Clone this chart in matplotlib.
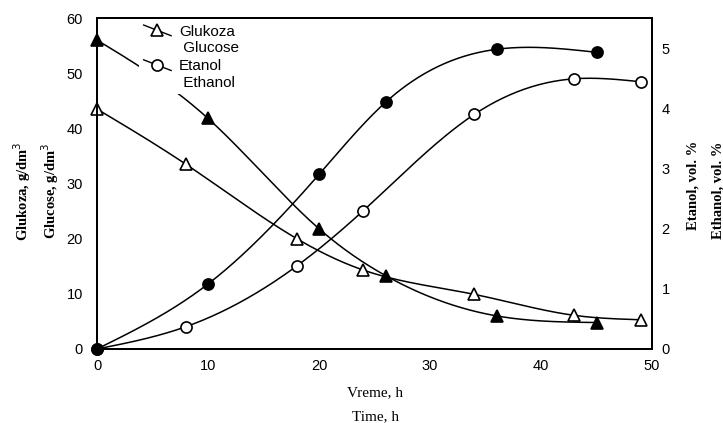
import numpy as np
import matplotlib
matplotlib.use("Agg")
import matplotlib.pyplot as plt
from matplotlib.lines import Line2D
from matplotlib.legend_handler import HandlerBase

# ---- data ----
t_glu_open = [0, 8, 18, 24, 34, 43, 49]
glu_open = [43.5, 33.5, 20.0, 14.3, 9.9, 6.1, 5.3]
t_glu_fill = [0, 10, 20, 26, 36, 45]
glu_fill = [56.0, 41.8, 21.8, 13.3, 6.0, 4.8]
t_eth_open = [0, 8, 18, 24, 34, 43, 49]
eth_open = [0.0, 0.37, 1.38, 2.3, 3.9, 4.49, 4.44]
t_eth_fill = [0, 10, 20, 26, 36, 45]
eth_fill = [0.0, 1.08, 2.9, 4.1, 4.98, 4.93]

x_ticks = [0, 10, 20, 30, 40, 50]
left_ticks = [0, 10, 20, 30, 40, 50, 60]
right_ticks = [0, 1, 2, 3, 4, 5]


def natural_spline(x, y, n=300):
    x = np.asarray(x, float)
    y = np.asarray(y, float)
    k = len(x)
    h = np.diff(x)
    A = np.zeros((k, k))
    b = np.zeros(k)
    A[0, 0] = 1
    A[-1, -1] = 1
    for i in range(1, k - 1):
        A[i, i - 1] = h[i - 1]
        A[i, i] = 2 * (h[i - 1] + h[i])
        A[i, i + 1] = h[i]
        b[i] = 6 * ((y[i + 1] - y[i]) / h[i] - (y[i] - y[i - 1]) / h[i - 1])
    M = np.linalg.solve(A, b)
    xs = np.linspace(x[0], x[-1], n)
    idx = np.clip(np.searchsorted(x, xs) - 1, 0, k - 2)
    x0, x1 = x[idx], x[idx + 1]
    hh = x1 - x0
    ys = (M[idx] * (x1 - xs) ** 3 / (6 * hh) + M[idx + 1] * (xs - x0) ** 3 / (6 * hh)
          + (y[idx] / hh - M[idx] * hh / 6) * (x1 - xs)
          + (y[idx + 1] / hh - M[idx + 1] * hh / 6) * (xs - x0))
    return xs, ys


class DiagHandler(HandlerBase):
    def create_artists(self, legend, orig_handle, xdescent, ydescent,
                       width, height, fontsize, trans):
        off = fontsize * 0.62
        x0, x1 = -xdescent, -xdescent + width
        yc = -ydescent + height / 2 + off
        line = Line2D([x0, x1], [yc + height * 0.5, yc - height * 0.5],
                      color="black", lw=1.0)
        mk = Line2D([(x0 + x1) / 2], [yc], marker=orig_handle.get_marker(),
                    mfc="white", mec="black", mew=1.2, ms=8, ls="none")
        line.set_transform(trans)
        mk.set_transform(trans)
        return [line, mk]


fig = plt.figure(figsize=(7.23, 4.23), dpi=100)
ax = fig.add_axes([97 / 723, 1 - 349 / 423, (652 - 97) / 723, (349 - 18) / 423])
ax2 = ax.twinx()

lw = 1.1
ms = 8
for t, v, mk, fc in [(t_glu_open, glu_open, "^", "white"),
                     (t_glu_fill, glu_fill, "^", "black")]:
    xs, ys = natural_spline(t, v)
    ax.plot(xs, ys, color="black", lw=lw, zorder=2)
    ax.plot(t, v, ls="none", marker=mk, mfc=fc, mec="black", mew=1.2, ms=ms,
            clip_on=False, zorder=3)
for t, v, mk, fc in [(t_eth_open, eth_open, "o", "white"),
                     (t_eth_fill, eth_fill, "o", "black")]:
    xs, ys = natural_spline(t, v)
    ax2.plot(xs, ys, color="black", lw=lw, zorder=2)
    ax2.plot(t, v, ls="none", marker=mk, mfc=fc, mec="black", mew=1.2, ms=ms,
             clip_on=False, zorder=3)

ax.set_xlim(0, 50)
ax.set_ylim(0, 60)
ax2.set_ylim(0, 5.5)
ax.set_xticks(x_ticks)
ax.set_yticks(left_ticks)
ax2.set_yticks(right_ticks)

for a in (ax, ax2):
    a.tick_params(length=0, pad=7)
    for s in a.spines.values():
        s.set_linewidth(1.4)
    for lab in a.get_xticklabels() + a.get_yticklabels():
        lab.set_fontfamily("Liberation Sans")
        lab.set_fontsize(10.5)
ax.tick_params(axis="y", pad=10)
ax2.tick_params(axis="y", pad=7)

h1 = Line2D([], [], marker="^")
h2 = Line2D([], [], marker="o")
leg = ax.legend([h1, h2], ["Glukoza\n Glucose", "Etanol\n Ethanol"],
                handler_map={Line2D: DiagHandler()},
                loc="upper left", bbox_to_anchor=(0.062, 1.017),
                frameon=True, framealpha=1, edgecolor="none",
                prop=dict(family="Liberation Sans", size=11),
                handlelength=1.8, handletextpad=0.5, labelspacing=0.3,
                borderpad=0.3, fancybox=False)
leg.set_zorder(5)

serif = "Liberation Serif"
fig.text(22 / 723, 1 - 191 / 423, "Glukoza, g/dm$^3$", rotation=90,
         ha="center", va="center", family=serif, weight="bold", size=10.5)
fig.text(50 / 723, 1 - 191 / 423, "Glucose, g/dm$^3$", rotation=90,
         ha="center", va="center", family=serif, weight="bold", size=10.5)
fig.text(693 / 723, 1 - 185 / 423, "Etanol, vol. %", rotation=90,
         ha="center", va="center", family=serif, weight="bold", size=10.5)
fig.text(718 / 723, 1 - 190 / 423, "Ethanol, vol. %", rotation=90,
         ha="center", va="center", family=serif, weight="bold", size=10.5)
fig.text(375 / 723, 1 - 393 / 423, "Vreme, h", ha="center", va="center",
         family=serif, size=11)
fig.text(375 / 723, 1 - 417 / 423, "Time, h", ha="center", va="center",
         family=serif, size=11)

fig.savefig("out.png", dpi=100)
